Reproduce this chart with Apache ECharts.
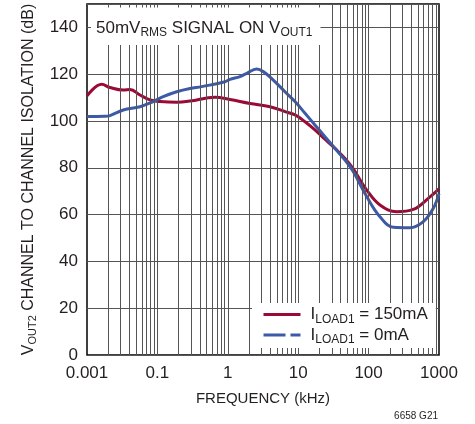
<!DOCTYPE html>
<html>
<head>
<meta charset="utf-8">
<script src="https://cdn.jsdelivr.net/npm/echarts@6/dist/echarts.min.js"></script>
<style>
html,body{margin:0;padding:0;background:#fff;}
#c{width:475px;height:424px;}
</style>
</head>
<body>
<div id="c"></div>
<script>
// ---- data ----
const freqRed = [0.01, 0.0162, 0.0212, 0.0328, 0.0408, 0.0566, 0.0785, 0.109, 0.188, 0.29, 0.658, 1.07, 2.07, 3.98, 6.49, 9.0, 12.5, 17.3, 24.0, 33.3, 46.2, 60.7, 94, 145, 251, 431, 745, 1000];
const dbRed   = [110.7, 115.7, 114.3, 113.2, 113.5, 111.1, 109.0, 108.3, 108.0, 108.5, 110.2, 109.2, 107.5, 106.1, 104.0, 102.6, 99.7, 96.2, 92.2, 88.3, 84.0, 79.5, 70.5, 64.1, 61.2, 62.2, 67.6, 71.0];
const freqBlue = [0.01, 0.018, 0.0212, 0.0328, 0.0566, 0.0875, 0.121, 0.188, 0.29, 0.426, 0.912, 1.07, 1.49, 1.87, 2.57, 3.19, 4.43, 6.49, 9.0, 12.5, 17.3, 24.0, 33.3, 46.2, 60.7, 94, 145, 224, 387, 599, 830, 1000];
const dbBlue   = [101.9, 102.0, 102.3, 104.7, 106.1, 108.3, 110.4, 112.5, 113.9, 114.7, 116.8, 117.8, 119.0, 120.4, 122.2, 121.1, 117.5, 112.5, 108.3, 103.3, 98.3, 93.3, 88.3, 83.3, 78.3, 67.7, 59.1, 54.6, 54.4, 57.0, 62.7, 69.0];
const seriesNames = ['150mA', '0mA'];
const xTickLabels = ['0.001', '0.1', '1', '10', '100', '1000'];
const yTicks = [0, 20, 40, 60, 80, 100, 120, 140];

const F = "'Liberation Sans Narrow','Liberation Sans',Arial,sans-serif";
const TXT = '#231f20';
function mkRich(big, small) {
  return {
    a: {fontSize: big, fontWeight: 'normal', fontFamily: F, color: TXT, lineHeight: big + 5},
    i: {fontSize: big, fontWeight: 'normal', fontFamily: F, color: TXT, lineHeight: big + 5, padding: [0, 0, 0, 5]},
    s: {fontSize: small, fontWeight: 'normal', fontFamily: F, color: TXT, lineHeight: small + 2, verticalAlign: 'bottom'}
  };
}

// vertical log grid lines (decade multiples)
const vLines = [];
[0.01, 0.1, 1, 10, 100].forEach(d => { for (let k = 1; k <= 9; k++) { const v = d * k; if (v > 0.01 && v < 1000) vLines.push({xAxis: +v.toPrecision(3)}); } });

const chart = echarts.init(document.getElementById('c'));
chart.setOption({
  animation: false,
  backgroundColor: '#fff',
  grid: {left: 87, right: 36, top: 4, bottom: 69, show: true, borderColor: '#000', borderWidth: 1.5, backgroundColor: 'transparent'},
  title: [
    {text: '{a|50mV}{s|RMS}{a| SIGNAL ON V}{s|OUT1}', left: 91, top: 5, backgroundColor: '#fff', padding: [12, 8, 6, 5], z: 20,
     textStyle: {fontWeight: 'normal', rich: mkRich(17, 12)}},
    {text: '6658 G21', right: 37, top: 411, padding: 0, textStyle: {fontSize: 10, fontWeight: 'normal', fontFamily: F, color: TXT}}
  ],
  legend: {
    orient: 'vertical', left: 252, top: 303, padding: [3, 8, 2, 10], itemGap: 1,
    backgroundColor: '#fff', itemWidth: 37, itemHeight: 3, z: 20,
    lineStyle: {width: 3},
    itemStyle: {opacity: 0},
    data: [{name: seriesNames[0]}, {name: seriesNames[1], lineStyle: {type: [22, 5], width: 3}}],
    formatter: n => '{i|I}{s|LOAD1}{a| = ' + n + '}',
    textStyle: {rich: mkRich(17, 12)}
  },
  xAxis: {
    type: 'log', logBase: 10, min: 0.01, max: 1000,
    name: 'FREQUENCY (kHz)', nameLocation: 'middle', nameGap: 36,
    nameTextStyle: {fontSize: 15, fontFamily: F, color: TXT},
    axisLine: {show: false}, axisTick: {show: false}, splitLine: {show: false},
    axisLabel: {fontSize: 17, fontFamily: F, color: TXT, margin: 10,
      formatter: (v, i) => xTickLabels[i] !== undefined ? xTickLabels[i] : ''}
  },
  yAxis: {
    type: 'value', min: 0, max: 150, interval: 20,
    name: '{a|V}{s|OUT2}{a| CHANNEL TO CHANNEL ISOLATION (dB)}', nameLocation: 'middle', nameGap: 48,
    nameTextStyle: {rich: mkRich(16, 11)},
    axisLine: {show: false}, axisTick: {show: false},
    splitLine: {lineStyle: {color: '#555', width: 1}},
    axisLabel: {fontSize: 17, fontFamily: F, color: TXT, margin: 9, showMaxLabel: false,
      formatter: v => yTicks.indexOf(v) >= 0 ? String(v) : ''}
  },
  series: [
    {type: 'line', name: '_grid', data: [], z: 1, silent: true,
     markLine: {silent: true, symbol: 'none', label: {show: false}, animation: false,
       lineStyle: {color: '#555', width: 1, type: 'solid'}, data: vLines}},
    {type: 'line', name: seriesNames[0], data: freqRed.map((f, i) => [f, dbRed[i]]), smooth: 0.4, showSymbol: false, symbol: 'none',
     lineStyle: {color: '#9a0a35', width: 3}, itemStyle: {color: '#9a0a35'}, z: 3},
    {type: 'line', name: seriesNames[1], data: freqBlue.map((f, i) => [f, dbBlue[i]]), smooth: 0.4, showSymbol: false, symbol: 'none',
     lineStyle: {color: '#3c5aa8', width: 3}, itemStyle: {color: '#3c5aa8'}, z: 3}
  ]
});
</script>
</body>
</html>
